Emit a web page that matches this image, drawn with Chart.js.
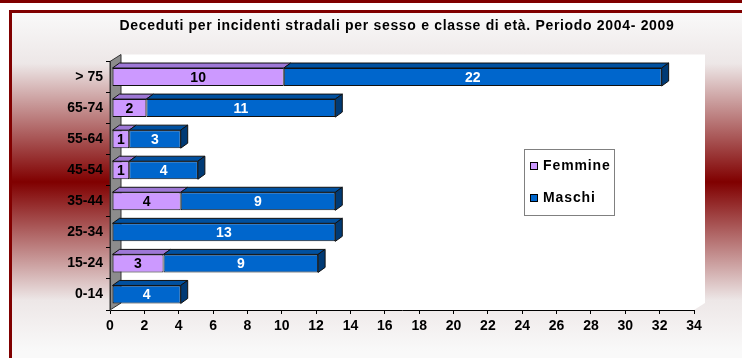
<!DOCTYPE html>
<html>
<head>
<meta charset="utf-8">
<script src="https://cdn.jsdelivr.net/npm/chart.js@4/dist/chart.umd.min.js"></script>
<style>
  html, body { margin: 0; padding: 0; background: #fff; }
  #chart { display: block; }
</style>
</head>
<body>
<canvas id="chart" width="742" height="358"></canvas>
<script>
// classi di età, dal basso verso l'alto
const categories = ['0-14', '15-24', '25-34', '35-44', '45-54', '55-64', '65-74', '> 75'];
const femmine = [0, 3, 0, 4, 1, 1, 2, 10];
const maschi = [4, 9, 13, 9, 4, 3, 11, 22];
const xMin = 0;
const xMax = 34;
const xStep = 2;
const titolo = 'Deceduti per incidenti stradali per sesso e classe di età. Periodo 2004- 2009';

const FONT = "'Liberation Sans', Arial, sans-serif";
const colori = {
  femmine: { front: '#CC99FF', top: '#9E78D6', side: '#7F5AB8' },
  maschi: { front: '#0066CC', top: '#00509F', side: '#003A75' }
};
const DEPTH_X = 7, DEPTH_Y = 5;       // rilievo delle barre
const WALL_X = 11, WALL_Y = 7;        // profondità delle pareti

// sfondo con cornice e sfumatura, pareti, rilievo, etichette e legenda
const sfondo = {
  id: 'sfondo',
  beforeDraw(chart) {
    const ctx = chart.ctx;
    const W = chart.width, H = chart.height;
    ctx.save();
    ctx.fillStyle = '#fff';
    ctx.fillRect(0, 0, W, H);
    ctx.fillStyle = '#800000';
    ctx.fillRect(0, 0, W, 3);

    const g = ctx.createLinearGradient(0, 13, 0, 351);
    g.addColorStop(0, '#f9f9f9');
    g.addColorStop(0.15, '#ede7e7');
    g.addColorStop(0.5, '#800000');
    g.addColorStop(0.85, '#ede7e7');
    g.addColorStop(1, '#f9f9f9');
    ctx.fillStyle = g;
    ctx.fillRect(9, 10, W - 9, H - 10);
    ctx.fillStyle = '#800000';
    ctx.fillRect(9, 10, W - 9, 3);
    ctx.fillRect(9, 10, 3, H - 10);

    // titolo
    ctx.fillStyle = '#000';
    ctx.font = 'bold 14px ' + FONT;
    ctx.letterSpacing = '0.68px';
    ctx.textAlign = 'center';
    ctx.textBaseline = 'middle';
    ctx.fillText(titolo, 397, 26);
    ctx.letterSpacing = '0px';

    const a = chart.chartArea;
    // parete di fondo + pavimento
    ctx.fillStyle = '#fff';
    ctx.beginPath();
    ctx.moveTo(a.left + WALL_X, a.top - WALL_Y);
    ctx.lineTo(a.right + WALL_X, a.top - WALL_Y);
    ctx.lineTo(a.right + WALL_X, a.bottom - WALL_Y);
    ctx.lineTo(a.right, a.bottom);
    ctx.lineTo(a.left, a.bottom);
    ctx.closePath();
    ctx.fill();
    // parete laterale grigia
    ctx.fillStyle = '#8c8c8c';
    ctx.strokeStyle = '#333';
    ctx.lineWidth = 1;
    ctx.beginPath();
    ctx.moveTo(a.left, a.top);
    ctx.lineTo(a.left + WALL_X, a.top - WALL_Y);
    ctx.lineTo(a.left + WALL_X, a.bottom - WALL_Y);
    ctx.lineTo(a.left, a.bottom);
    ctx.closePath();
    ctx.fill();
    ctx.stroke();
    ctx.restore();
  },
  // facce superiori e laterali delle barre
  beforeDatasetsDraw(chart) {
    const ctx = chart.ctx;
    ctx.save();
    ctx.translate(2, 0);
    ctx.strokeStyle = '#111';
    ctx.lineWidth = 1;
    chart.data.datasets.forEach((ds, di) => {
      const meta = chart.getDatasetMeta(di);
      const col = di === 0 ? colori.femmine : colori.maschi;
      meta.data.forEach((bar, i) => {
        if (!ds.data[i]) return;
        const p = bar.getProps(['x', 'y', 'base', 'height'], true);
        const top = p.y - p.height / 2, bot = p.y + p.height / 2;
        const x0 = Math.min(p.x, p.base), x1 = Math.max(p.x, p.base);
        ctx.fillStyle = col.top;
        ctx.beginPath();
        ctx.moveTo(x0, top);
        ctx.lineTo(x0 + DEPTH_X, top - DEPTH_Y);
        ctx.lineTo(x1 + DEPTH_X, top - DEPTH_Y);
        ctx.lineTo(x1, top);
        ctx.closePath();
        ctx.fill();
        ctx.stroke();
        // lato destro solo per l'ultimo segmento della pila
        const ultimo = chart.data.datasets.slice(di + 1).every(d => !d.data[i]);
        if (ultimo) {
          ctx.fillStyle = col.side;
          ctx.beginPath();
          ctx.moveTo(x1, top);
          ctx.lineTo(x1 + DEPTH_X, top - DEPTH_Y);
          ctx.lineTo(x1 + DEPTH_X, bot - DEPTH_Y);
          ctx.lineTo(x1, bot);
          ctx.closePath();
          ctx.fill();
          ctx.stroke();
        }
      });
    });
    ctx.restore();
    ctx.save();
    ctx.translate(2, 0);
  },
  afterDatasetsDraw(chart) {
    const ctx = chart.ctx;
    ctx.restore();
    // etichette dei valori
    ctx.save();
    ctx.translate(2, 0);
    ctx.font = 'bold 14px ' + FONT;
    ctx.textAlign = 'center';
    ctx.textBaseline = 'middle';
    chart.data.datasets.forEach((ds, di) => {
      const meta = chart.getDatasetMeta(di);
      ctx.fillStyle = di === 0 ? '#000' : '#fff';
      meta.data.forEach((bar, i) => {
        const v = ds.data[i];
        if (!v) return;
        const p = bar.getProps(['x', 'y', 'base'], true);
        ctx.fillText(String(v), (p.x + p.base) / 2, p.y + 1);
      });
    });
    ctx.restore();
  },
  // legenda nel riquadro
  afterDraw(chart) {
    const ctx = chart.ctx;
    const bx = 524, by = 149, bw = 90, bh = 66;
    ctx.save();
    ctx.fillStyle = '#fff';
    ctx.fillRect(bx, by, bw, bh);
    ctx.strokeStyle = '#808080';
    ctx.lineWidth = 1;
    ctx.strokeRect(bx + 0.5, by + 0.5, bw, bh);
    ctx.font = 'bold 14px ' + FONT;
    ctx.letterSpacing = '0.9px';
    ctx.textBaseline = 'middle';
    chart.data.datasets.forEach((ds, di) => {
      const cy = by + 17 + di * 32;
      ctx.fillStyle = ds.backgroundColor;
      ctx.fillRect(bx + 6, cy - 4, 8, 8);
      ctx.strokeStyle = '#000';
      ctx.strokeRect(bx + 6.5, cy - 3.5, 7, 7);
      ctx.fillStyle = '#000';
      ctx.fillText(ds.label, bx + 19, cy);
    });
    ctx.restore();
  }
};

new Chart(document.getElementById('chart'), {
  type: 'bar',
  data: {
    labels: categories,
    datasets: [
      {
        label: 'Femmine',
        data: femmine,
        backgroundColor: colori.femmine.front,
        borderColor: '#111',
        borderWidth: c => (c.raw ? 1 : 0),
        borderSkipped: false
      },
      {
        label: 'Maschi',
        data: maschi,
        backgroundColor: colori.maschi.front,
        borderColor: '#111',
        borderWidth: c => (c.raw ? 1 : 0),
        borderSkipped: false
      }
    ]
  },
  options: {
    indexAxis: 'y',
    responsive: false,
    animation: false,
    layout: { padding: { left: 0, right: 48, top: 61.5, bottom: 0 } },
    datasets: { bar: { categoryPercentage: 1, barPercentage: 0.58 } },
    scales: {
      x: {
        stacked: true,
        min: xMin,
        max: xMax,
        ticks: {
          stepSize: xStep,
          color: '#000',
          padding: 4,
          font: { family: FONT, size: 14, weight: 'bold' }
        },
        grid: { drawOnChartArea: false, drawTicks: true, tickLength: 4, color: '#000' },
        border: { color: '#000', width: 1 },
        afterFit(scale) { scale.height = 48; }
      },
      y: {
        stacked: true,
        reverse: true,
        ticks: {
          color: '#000',
          padding: 3,
          font: { family: FONT, size: 14, weight: 'bold' }
        },
        grid: { drawOnChartArea: false, drawTicks: true, tickLength: 4, color: '#000', offset: true },
        border: { color: '#333', width: 1 },
        afterFit(scale) { scale.width = 110; }
      }
    },
    plugins: {
      legend: { display: false },
      tooltip: { enabled: false },
      title: { display: false }
    }
  },
  plugins: [sfondo]
});
</script>
</body>
</html>
